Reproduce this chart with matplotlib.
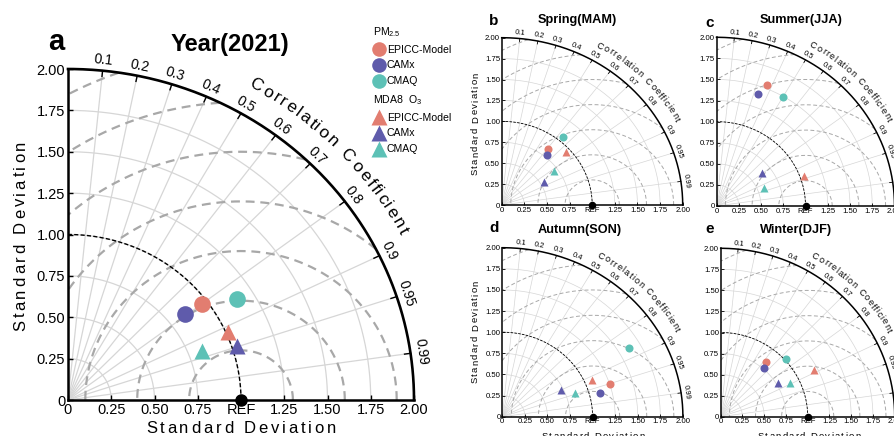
import numpy as np
import matplotlib
matplotlib.use('Agg')
import matplotlib.pyplot as plt
from matplotlib.lines import Line2D

W, H = 894, 436
FAM = 'Liberation Sans'
plt.rcParams['font.family'] = [FAM, 'DejaVu Sans']
plt.rcParams['mathtext.default'] = 'regular'

# ---------------- data (normalized standard deviation, correlation) -------------
models = ['EPICC-Model', 'CAMx', 'CMAQ']
colors = ['#E27D70', '#5F5BAB', '#5DC1B6']

std_pm25_year = [0.968, 0.854, 1.153]
corr_pm25_year = [0.800, 0.794, 0.849]
std_o3_year = [1.014, 1.032, 0.831]
corr_o3_year = [0.914, 0.949, 0.934]

std_pm25_mam = [0.839, 0.777, 1.055]
corr_pm25_mam = [0.604, 0.638, 0.638]
std_o3_mam = [0.951, 0.539, 0.705]
corr_o3_mam = [0.742, 0.859, 0.814]

std_pm25_jja = [1.540, 1.410, 1.493]
corr_pm25_jja = [0.365, 0.329, 0.498]
std_o3_jja = [1.043, 0.646, 0.575]
corr_o3_jja = [0.940, 0.797, 0.931]

std_pm25_son = [1.251, 1.122, 1.619]
corr_pm25_son = [0.951, 0.967, 0.865]
std_o3_son = [1.080, 0.725, 0.854]
corr_o3_son = [0.916, 0.900, 0.946]

std_pm25_djf = [0.836, 0.760, 1.017]
corr_pm25_djf = [0.628, 0.650, 0.742]
std_o3_djf = [1.204, 0.767, 0.888]
corr_o3_djf = [0.888, 0.854, 0.893]

corr_ticks = [0.1, 0.2, 0.3, 0.4, 0.5, 0.6, 0.7, 0.8, 0.9, 0.95, 0.99]
std_ticks = [0, 0.25, 0.5, 0.75, 1.0, 1.25, 1.5, 1.75, 2.0]
x_ticklabels = ['0', '0.25', '0.50', '0.75', 'REF', '1.25', '1.50', '1.75', '2.00']
y_ticklabels = ['0', '0.25', '0.50', '0.75', '1.00', '1.25', '1.50', '1.75', '2.00']
rms_levels = [0.3, 0.6, 0.9, 1.2, 1.5, 1.8, 2.1]
ref_std = 1.0

fig = plt.figure(figsize=(W / 100, H / 100), dpi=100)
_rend = fig.canvas.get_renderer()


def px(x, y):
    return (x / W, 1 - y / H)


def _wid(s, size):
    t = fig.text(0, 0, s, fontsize=size)
    bb = t.get_window_extent(renderer=_rend)
    t.remove()
    return bb.width


def advances(text, size):
    base = _wid('||', size)
    return np.array([_wid('|' + ch + '|', size) - base for ch in text])


def spaced_text(cx, cy, text, size, extra, rot=0):
    w = advances(text, size)
    n = len(text)
    centers = np.cumsum(w) - w / 2 + np.arange(n) * extra
    total = w.sum() + (n - 1) * extra
    d = centers - total / 2
    dx, dy = (1, 0) if rot == 0 else (0, -1)
    for ch, di in zip(text, d):
        if ch == ' ':
            continue
        fig.text(*px(cx + di * dx, cy + di * dy), ch, fontsize=size, rotation=rot,
                 ha='center', va='baseline', rotation_mode='anchor')


def draw_taylor(rect, big, std_pm, corr_pm, std_o3, corr_o3):
    l, b, w, h = rect
    ax = fig.add_axes([l / W, 1 - b / H, w / W, h / H])
    s = 1.0 if big else 0.52
    ax.set_xlim(0, 2)
    ax.set_ylim(0, 2)
    ax.set_facecolor('none')
    for sp in ['top', 'right']:
        ax.spines[sp].set_visible(False)
    for sp in ['left', 'bottom']:
        ax.spines[sp].set_linewidth(1.8 if big else 1.1)
        ax.spines[sp].set_zorder(6)
    ax.set_xticks(std_ticks)
    ax.set_xticklabels(x_ticklabels)
    ax.set_yticks(std_ticks)
    ax.set_yticklabels(y_ticklabels)
    ax.tick_params(direction='in', length=3.5 if big else 2, width=1.0 if big else 0.6,
                   labelsize=10.5 if big else 5.6, pad=2 if big else 1.2)

    th = np.linspace(0, np.pi / 2, 400)
    for r in std_ticks[1:-1]:
        ax.plot(r * np.cos(th), r * np.sin(th), color='#d6d6d6', lw=0.9 if big else 0.5, zorder=1)
    for c in corr_ticks:
        ax.plot([0, 2 * c], [0, 2 * np.sqrt(1 - c ** 2)], color='#d6d6d6',
                lw=0.9 if big else 0.5, zorder=1)
    t = np.linspace(0, np.pi, 800)
    for rr in rms_levels:
        x = ref_std + rr * np.cos(t)
        y = rr * np.sin(t)
        m = (x >= 0) & (x ** 2 + y ** 2 <= 4.0)
        x = np.where(m, x, np.nan)
        y = np.where(m, y, np.nan)
        ax.plot(x, y, color='#a8a8a8', lw=1.6 if big else 0.7,
                ls=(0, (4, 2.6)) if big else (0, (4, 2.5)), zorder=2)
    ax.plot(ref_std * np.cos(th), ref_std * np.sin(th), color='k', lw=1.0 if big else 0.6,
            ls=(0, (3, 1.6)), zorder=3)
    ax.plot(2 * np.cos(th), 2 * np.sin(th), color='k', lw=1.9 if big else 1.1,
            clip_on=False, zorder=6)
    for c in corr_ticks:
        a = np.arccos(c)
        ax.plot([1.965 * c, 2 * c], [1.965 * np.sin(a), 2 * np.sin(a)], color='k',
                lw=1.0 if big else 0.6, clip_on=False, zorder=6)
        lab = ('%.2f' % c) if c in (0.95, 0.99) else '%.1f' % c
        rl = 2.02
        ax.text(rl * c, rl * np.sin(a), lab, fontsize=10 if big else 5.5,
                rotation=np.degrees(a) - 90, rotation_mode='anchor',
                ha='center', va='bottom', clip_on=False)
    txt = 'Correlation Coefficient'
    fs = 12.5 if big else 6.6
    wv = advances(txt, fs)
    cen = np.cumsum(wv) - wv / 2
    frac = (cen - cen[0]) / (cen[-1] - cen[0])
    t0, t1 = np.radians(60.3), np.radians(27.8)
    sx, sy = w / 2.0, h / 2.0
    rb = 2.16
    for ch, f in zip(txt, frac):
        if ch == ' ':
            continue
        tt = t0 + (t1 - t0) * f
        rot = np.degrees(np.arctan2(-sy * np.cos(tt), sx * np.sin(tt)))
        ax.text(rb * np.cos(tt), rb * np.sin(tt), ch, fontsize=fs, rotation=rot,
                rotation_mode='anchor', ha='center', va='baseline', clip_on=False)

    ax.plot([ref_std], [0], 'o', color='k', ms=8 if big else 4.4, clip_on=False, zorder=12)

    ms = 12 if big else 5.8
    sp_, cp_ = np.array(std_pm), np.array(corr_pm)
    so_, co_ = np.array(std_o3), np.array(corr_o3)
    order = [1, 2, 0] if big else [0, 1, 2]
    for i in order:
        ax.plot(so_[i] * co_[i], so_[i] * np.sqrt(1 - co_[i] ** 2), '^', color=colors[i],
                ms=ms, mec='none', zorder=8)
    for i in order:
        ax.plot(sp_[i] * cp_[i], sp_[i] * np.sqrt(1 - cp_[i] ** 2), 'o', color=colors[i],
                ms=ms, mec='none', zorder=9)
    return ax


rects = {
    'a': (68, 400, 346, 331),
    'b': (501.7, 205, 181, 167.3),
    'c': (716.5, 206, 178, 168.7),
    'd': (502.3, 416.7, 180.6, 169),
    'e': (720.7, 416.7, 174, 168.4),
}
draw_taylor(rects['a'], True, std_pm25_year, corr_pm25_year, std_o3_year, corr_o3_year)
draw_taylor(rects['b'], False, std_pm25_mam, corr_pm25_mam, std_o3_mam, corr_o3_mam)
draw_taylor(rects['c'], False, std_pm25_jja, corr_pm25_jja, std_o3_jja, corr_o3_jja)
draw_taylor(rects['d'], False, std_pm25_son, corr_pm25_son, std_o3_son, corr_o3_son)
draw_taylor(rects['e'], False, std_pm25_djf, corr_pm25_djf, std_o3_djf, corr_o3_djf)

fig.text(*px(230, 44), 'Year(2021)', fontsize=17, fontweight='bold', ha='center', va='center')
fig.text(*px(56, 42), 'a', fontsize=21, fontweight='bold', ha='center', va='center')
for (tx, ty, title), (lx, ly, letter) in [
        ((577, 20, 'Spring(MAM)'), (494, 21, 'b')),
        ((801, 20, 'Summer(JJA)'), (710, 23, 'c')),
        ((580, 230, 'Autumn(SON)'), (494, 228, 'd')),
        ((796, 230, 'Winter(DJF)'), (710, 229, 'e'))]:
    fig.text(*px(tx, ty), title, fontsize=9.2, fontweight='bold', ha='center', va='center')
    fig.text(*px(lx, ly), letter, fontsize=11, fontweight='bold', ha='center', va='center')

spaced_text(241, 433, 'Standard Deviation', 12, 2.8, 0)
spaced_text(25, 236, 'Standard Deviation', 12, 2.8, 90)
spaced_text(478, 124, 'Standard Deviation', 6.8, 1.3, 90)
spaced_text(478, 332, 'Standard Deviation', 6.8, 1.3, 90)
spaced_text(593, 439, 'Standard Deviation', 6.8, 1.3, 0)
spaced_text(809, 439, 'Standard Deviation', 6.8, 1.3, 0)

h_pm = [Line2D([], [], ls='none', marker='o', ms=10.5, color=c, mec='none') for c in colors]
h_o3 = [Line2D([], [], ls='none', marker='^', ms=11, color=c, mec='none') for c in colors]
common = dict(loc='upper left', frameon=False, fontsize=7.6, title_fontsize=7.6,
              handlelength=1.1, handletextpad=0.2, labelspacing=0.55, borderpad=0,
              borderaxespad=0, alignment='left')
fig.legend(h_pm, models, title='PM$_{2.5}$', bbox_to_anchor=px(373, 25), **common)
fig.legend(h_o3, models, title='MDA8  O$_3$', bbox_to_anchor=px(373, 93), **common)

fig.savefig('out.png', dpi=100)
